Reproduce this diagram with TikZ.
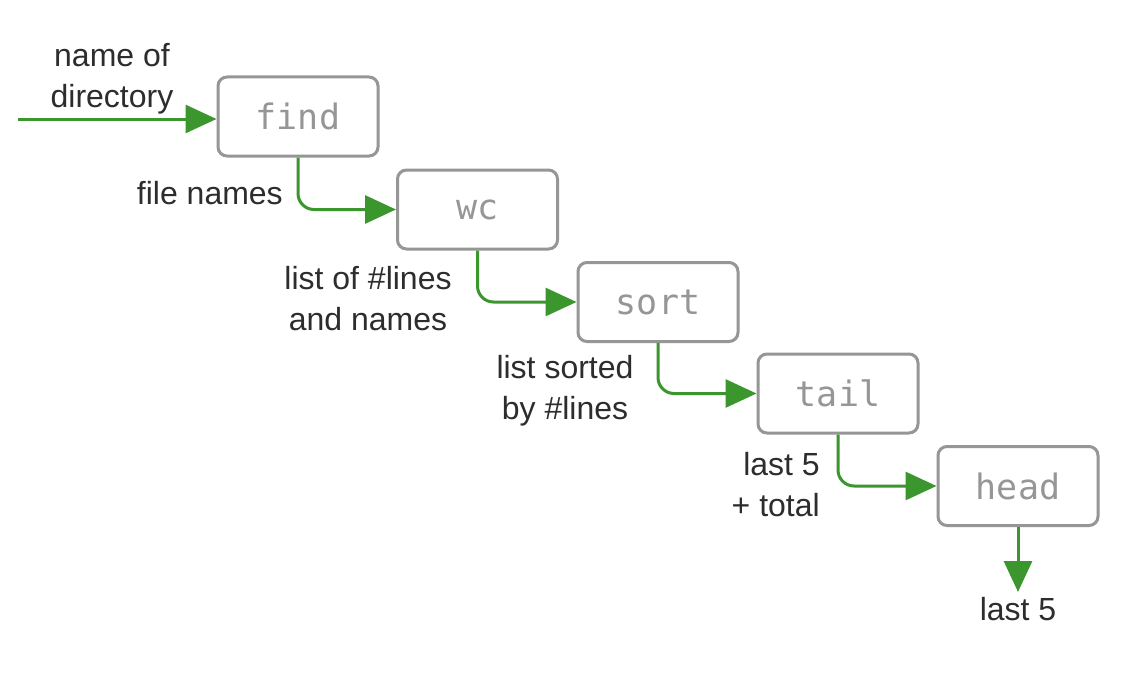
\documentclass[tikz,border=0pt]{standalone}
\usepackage{fontspec}
\setmainfont{Liberation Sans}
\newfontfamily\boxmono{DejaVu Sans Mono}
\usetikzlibrary{arrows.meta}
\definecolor{flowgreen}{RGB}{58,150,45}
\definecolor{boxgray}{RGB}{150,150,150}
\definecolor{labelgray}{RGB}{45,45,45}
\tikzset{
  cmdbox/.style={draw=boxgray, line width=3pt, rounded corners=9pt,
    minimum width=160pt, minimum height=79pt, inner sep=0pt,
    text=boxgray, font=\boxmono\fontsize{35}{38}\selectfont},
  flow/.style={draw=flowgreen, line width=3pt, rounded corners=16pt,
    -{Triangle[length=31pt,width=28pt]}, color=flowgreen},
  lbl/.style={text=labelgray, font=\fontsize{32}{41}\selectfont, inner sep=0pt, align=center},
}
\begin{document}
\begin{tikzpicture}[x=1pt,y=-1pt]
\useasboundingbox[fill=white] (0,0) rectangle (1130,677);
\node[cmdbox] (find) at (298,116.5) {find};
\node[cmdbox] (wc)   at (477.5,209.5) {wc};
\node[cmdbox] (sort) at (658,302) {sort};
\node[cmdbox] (tail) at (838,393.5) {tail};
\node[cmdbox] (head) at (1018,486) {head};
\coordinate (src) at (18,119);
\coordinate (out) at (1018,592);
\draw[flow] (src) -- (src -| find.west);
\draw[flow] (find.south) |- (wc.west);
\draw[flow] (wc.south) |- (sort.west);
\draw[flow] (sort.south) |- (tail.west);
\draw[flow] (tail.south) |- (head.west);
\draw[flow] (head.south) -- (out);
\node[lbl] (l0) at (112,79) {name of\\directory};
\node[lbl, anchor=east] (l1) at (283,193) {file names};
\node[lbl] (l2) at (368,299) {list of \#lines\\and names};
\node[lbl] (l3) at (565,391) {list sorted\\by \#lines};
\node[lbl, align=right, anchor=east] (l4) at (820,485) {last 5\\+ total};
\node[lbl] (l5) at (1018,609) {last 5};
\end{tikzpicture}
\end{document}
